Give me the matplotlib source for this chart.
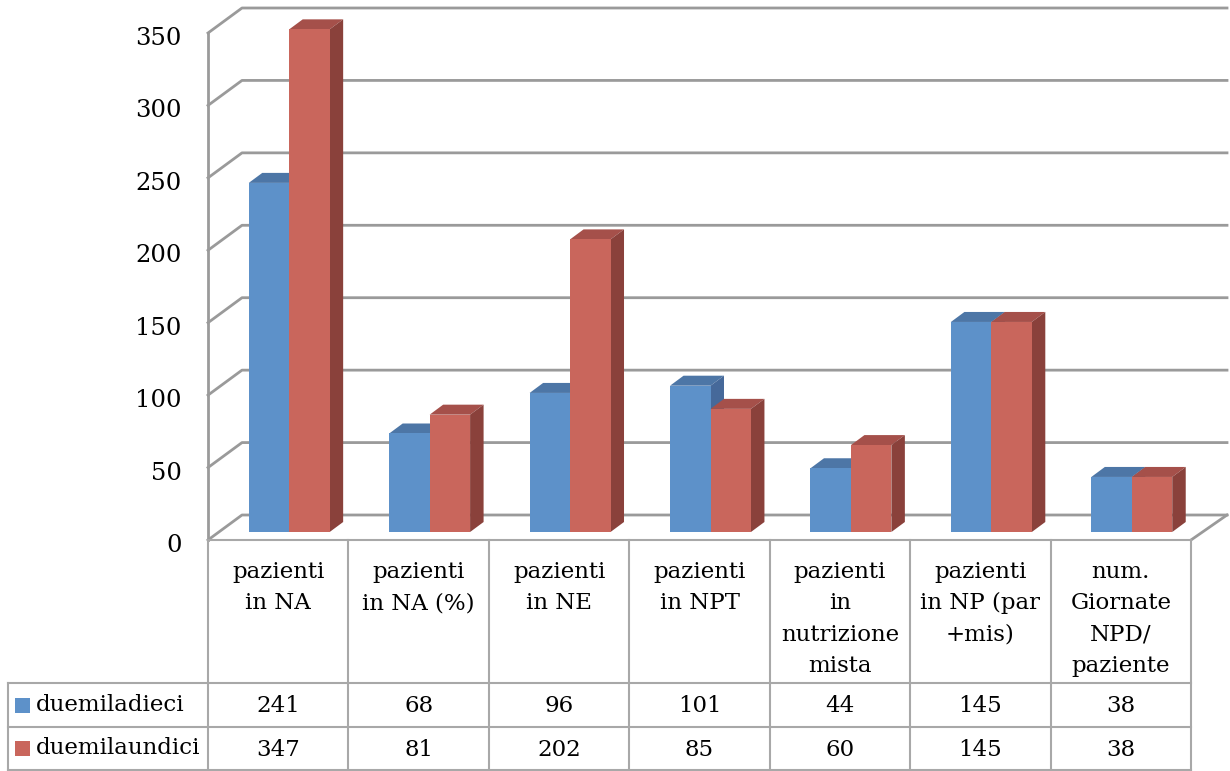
import matplotlib
matplotlib.use("Agg")
import matplotlib.pyplot as plt
from matplotlib.patches import Polygon, Rectangle
from matplotlib.lines import Line2D
from matplotlib.transforms import offset_copy, IdentityTransform, Affine2D

plt.rcParams["font.family"] = ["DejaVu Serif"]

categories = [
    "pazienti\nin NA",
    "pazienti\nin NA (%)",
    "pazienti\nin NE",
    "pazienti\nin NPT",
    "pazienti\nin\nnutrizione\nmista",
    "pazienti\nin NP (par\n+mis)",
    "num.\nGiornate\nNPD/\npaziente",
]
series_names = ["duemiladieci", "duemilaundici"]
duemiladieci = [241, 68, 96, 101, 44, 145, 38]
duemilaundici = [347, 81, 202, 85, 60, 145, 38]
yticks = [0, 50, 100, 150, 200, 250, 300, 350]

front_colors = ["#5D91C9", "#C9665C"]
top_colors = ["#4D76A6", "#A5504A"]
side_colors = ["#46699A", "#8A413B"]
grid_color = "#9A9A9A"
table_color = "#A8A8A8"

W, H = 1230, 771
fig = plt.figure(figsize=(W / 100, H / 100), dpi=100)

# front plane of the plot box, in pixels
left, right, y0, y350 = 208, 1191, 540, 33
ax = fig.add_axes([left / W, (H - y0) / H, (right - left) / W, (y0 - y350) / H])
ax.set_xlim(0, len(categories))
ax.set_ylim(0, 350)
for s in ax.spines.values():
    s.set_visible(False)
ax.set_xticks([])
ax.set_yticks(yticks)
ax.tick_params(axis="y", length=0, pad=19, labelsize=17.5)
ax.patch.set_visible(False)
for lbl in ax.get_yticklabels():
    lbl.set_transform(lbl.get_transform() + Affine2D().translate(0, -3))

# depth of the whole box and of the bars (pixels)
box_dx, box_dy = 34, 25
bar_off_dx, bar_off_dy = 11, 8
bar_dx, bar_dy = 13.5, 10
bar_w = 0.288

fig.canvas.draw()
T = ax.transData
PX = IdentityTransform()


def to_px(x, y):
    return T.transform((x, y))


def px_poly(pts, **kw):
    fig.add_artist(Polygon(pts, closed=True, transform=PX, **kw))


def px_line(xs, ys, **kw):
    fig.add_artist(Line2D(xs, ys, transform=PX, **kw))


# back wall gridlines and left wall diagonals
for t in yticks:
    fx, fy_ = to_px(0, t)
    rx, _ = to_px(len(categories), t)
    px_line([fx, fx + box_dx, rx + box_dx + 2], [fy_, fy_ + box_dy, fy_ + box_dy],
            color=grid_color, lw=2, zorder=1)
# front left vertical edge
fx, fy0 = to_px(0, 0)
_, fy1 = to_px(0, 350)
px_line([fx, fx], [fy0, fy1], color=grid_color, lw=2, zorder=1)
# right floor edge
rx, ry = to_px(len(categories), 0)
px_line([rx, rx + box_dx + 2], [ry, ry + box_dy], color=grid_color, lw=2, zorder=1)

bar_tr = offset_copy(T, fig=fig, x=bar_off_dx, y=bar_off_dy, units="dots")

# bars, drawn left to right, blue then red
for i in range(len(categories)):
    for k, vals in enumerate([duemiladieci, duemilaundici]):
        v = vals[i]
        xa = i + 0.5 - bar_w + k * bar_w
        xb = xa + bar_w
        ax0, ay0 = bar_tr.transform((xa, 0))
        bx0, by1 = bar_tr.transform((xb, v))
        top = [(ax0, by1), (bx0, by1), (bx0 + bar_dx, by1 + bar_dy), (ax0 + bar_dx, by1 + bar_dy)]
        side = [(bx0, ay0), (bx0, by1), (bx0 + bar_dx, by1 + bar_dy), (bx0 + bar_dx, ay0 + bar_dy)]
        z = 2 + i * 0.1 + k * 0.03
        px_poly(top, facecolor=top_colors[k], edgecolor="none", zorder=z)
        px_poly(side, facecolor=side_colors[k], edgecolor="none", zorder=z + 0.01)
        rect = Rectangle((xa, 0), bar_w, v, facecolor=front_colors[k], edgecolor="none",
                         transform=bar_tr, zorder=z + 0.02)
        fig.add_artist(rect)

# data table below the plot
row_top = 540
row_h0 = 683
row_h1 = 727
row_h2 = 770
leg_left = 8


def fy(y):
    return H - y


tkw = dict(color=table_color, lw=1.5, zorder=5)
px_line([left, right], [fy(row_top), fy(row_top)], **tkw)
for y in (row_h0, row_h1, row_h2):
    px_line([leg_left, right], [fy(y), fy(y)], **tkw)
px_line([leg_left, leg_left], [fy(row_h0), fy(row_h2)], **tkw)
for i in range(len(categories) + 1):
    cx, _ = to_px(i, 0)
    px_line([cx, cx], [fy(row_top), fy(row_h2)], **tkw)

for i, lab in enumerate(categories):
    cx, _ = to_px(i + 0.5, 0)
    fig.text(cx / W, fy(561) / H, lab, ha="center", va="top", fontsize=16.5,
             linespacing=1.55)
    fig.text(cx / W, fy((row_h0 + row_h1) / 2 + 1) / H, str(duemiladieci[i]),
             ha="center", va="center", fontsize=16.5)
    fig.text(cx / W, fy((row_h1 + row_h2) / 2 + 1) / H, str(duemilaundici[i]),
             ha="center", va="center", fontsize=16.5)

for k, name in enumerate(series_names):
    yc = [(row_h0 + row_h1) / 2, (row_h1 + row_h2) / 2][k]
    fig.add_artist(Rectangle((15, fy(yc) - 7.5), 15, 15, facecolor=front_colors[k],
                             edgecolor="none", transform=PX))
    fig.text(36 / W, fy(yc) / H, name, ha="left", va="center", fontsize=16.5)

fig.savefig("out.png", dpi=100)
